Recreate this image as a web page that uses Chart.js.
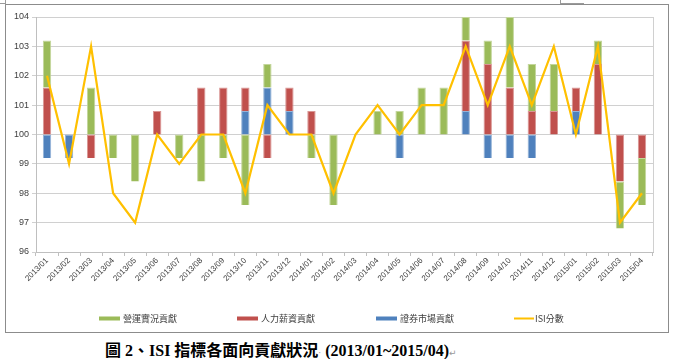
<!DOCTYPE html>
<html>
<head>
<meta charset="utf-8">
<script src="https://cdn.jsdelivr.net/npm/chart.js@4.4.1/dist/chart.umd.min.js"></script>
<style>
  body { margin: 0; width: 676px; height: 359px; background: #fff; position: relative; overflow: hidden; }
  #box { position: absolute; left: 5px; top: 4px; width: 662px; height: 327px; border: 1px solid #8c8c8c; }
  .corner { position: absolute; border-color: #9a9a9a; border-style: solid; }
  #cap { position: absolute; left: 105px; top: 337px; white-space: nowrap; line-height: 16px;
         font: bold 16px "Liberation Serif", "Noto Sans CJK TC", serif; color: #000; }
  #cap .mark { font: 9px "DejaVu Sans"; color: #999; font-weight: normal; }
</style>
</head>
<body>
<div class="corner" style="left:0;top:0;width:5px;height:3px;border-width:0 1px 1px 0"></div>
<div class="corner" style="left:560px;top:0;width:23px;height:3px;border-width:0 0 1px 1px"></div>
<div id="box"><canvas id="isiChart" width="662" height="327"></canvas></div>
<div id="cap">圖 2、ISI 指標各面向貢獻狀況<span class="mark">·</span> (2013/01~2015/04)<span class="mark">↵</span></div>
<script>
// Months
const months = ['2013/01','2013/02','2013/03','2013/04','2013/05','2013/06','2013/07','2013/08','2013/09','2013/10',
  '2013/11','2013/12','2014/01','2014/02','2014/03','2014/04','2014/05','2014/06','2014/07','2014/08',
  '2014/09','2014/10','2014/11','2014/12','2015/01','2015/02','2015/03','2015/04'];

// Contributions (points away from 100)
const operations = [1.6,0,1.6,-0.8,-1.6,0,-0.8,-1.6,-0.8,-2.4,0.8,0,-0.8,-2.4,0,0.8,0.8,1.6,1.6,0.8,0.8,2.4,1.6,1.6,0,0.8,-1.6,-1.6];
const wages = [1.6,0,-0.8,0,0,0.8,0,1.6,1.6,0.8,-0.8,0.8,0.8,0,0,0,0,0,0,2.4,2.4,1.6,0.8,0.8,0.8,2.4,-1.6,-0.8];
const market = [-0.8,-0.8,0,0,0,0,0,0,0,0.8,1.6,0.8,0,0,0,0,-0.8,0,0,0.8,-0.8,-0.8,-0.8,0,0.8,0,0,0];

// ISI score
const isiScore = [102,99,103,98,97,100,99,100,100,98,101,100,100,98,100,101,100,101,101,103,101,103,101,103,100,103,97,98];

const yTicks = { min: 96, max: 104, step: 1 };
const baseLine = 100;

// Bars hang off 100: stack market, then wages, then operations, up and down separately
const stackOrder = [market, wages, operations];
const ranges = stackOrder.map(() => []);
months.forEach((m, i) => {
  let up = baseLine, down = baseLine;
  stackOrder.forEach((series, k) => {
    const v = series[i];
    if (v > 0) { ranges[k].push([up, up + v]); up += v; }
    else if (v < 0) { ranges[k].push([down + v, down]); down += v; }
    else ranges[k].push(null);
  });
});

const legendItems = [
  { label: '營運實況貢獻', color: '#9bbb59', line: false },
  { label: '人力薪資貢獻', color: '#c0504d', line: false },
  { label: '證券市場貢獻', color: '#4f81bd', line: false },
  { label: 'ISI分數', color: '#ffc000', line: true }
];

// Excel-like legend, placed left of centre, plus the plot area's right edge
const excelBits = {
  id: 'excelBits',
  beforeDatasetsDraw(chart) {
    const { ctx, chartArea } = chart;
    ctx.save();
    ctx.strokeStyle = '#d0d0d0';
    ctx.lineWidth = 1;
    ctx.beginPath();
    ctx.moveTo(Math.round(chartArea.right) + 0.5, chartArea.top);
    ctx.lineTo(Math.round(chartArea.right) + 0.5, chartArea.bottom);
    ctx.stroke();
    ctx.restore();
  },
  afterDraw(chart) {
    const ctx = chart.ctx;
    ctx.save();
    ctx.font = '9px "Noto Sans CJK TC", "Liberation Sans", sans-serif';
    ctx.textBaseline = 'middle';
    legendItems.forEach((it, i) => {
      const x = Math.round(93 + i * 138.3), y = 313.5;
      ctx.fillStyle = it.color;
      if (it.line) {
        ctx.fillRect(x, y - 1, 20, 2);
      } else {
        ctx.fillRect(x, y - 2, 21, 4);
      }
      ctx.fillStyle = '#404040';
      ctx.fillText(it.label, x + (it.line ? 21 : 24), y);
    });
    ctx.restore();
  }
};

const barStyle = (color, border) => ({
  type: 'bar', backgroundColor: color, borderColor: border, borderWidth: 1,
  grouped: false, barPercentage: 0.38, categoryPercentage: 1, order: 1
});

new Chart(document.getElementById('isiChart'), {
  data: {
    labels: months,
    datasets: [
      { label: '營運實況貢獻', data: ranges[2], ...barStyle('#9bbb59', '#c3d69b') },
      { label: '人力薪資貢獻', data: ranges[1], ...barStyle('#c0504d', '#d99694') },
      { label: '證券市場貢獻', data: ranges[0], ...barStyle('#4f81bd', '#95b3d7') },
      { type: 'line', label: 'ISI分數', data: isiScore, borderColor: '#ffc000', borderWidth: 2.2,
        pointRadius: 0, tension: 0, fill: false, order: 0 }
    ]
  },
  options: {
    responsive: false,
    animation: false,
    layout: { padding: { left: 0, right: 15, top: 12, bottom: 40 } },
    plugins: { legend: { display: false }, tooltip: { enabled: false } },
    scales: {
      x: {
        grid: { display: true, drawOnChartArea: false, drawTicks: true, tickLength: 4, color: '#bfbfbf' },
        border: { color: '#bfbfbf' },
        ticks: { autoSkip: false, maxRotation: 45, minRotation: 45, color: '#404040', padding: 0,
                 font: { size: 8, family: '"Liberation Sans", Arial, sans-serif' } },
        afterFit: s => { s.height = 40; }
      },
      y: {
        min: yTicks.min, max: yTicks.max,
        grid: { color: '#d0d0d0', tickLength: 4 },
        border: { color: '#bfbfbf' },
        ticks: { stepSize: yTicks.step, color: '#404040', padding: 3,
                 font: { size: 9, family: '"Liberation Sans", Arial, sans-serif' } },
        afterFit: s => { s.width = 30; }
      }
    }
  },
  plugins: [excelBits]
});
</script>
</body>
</html>
